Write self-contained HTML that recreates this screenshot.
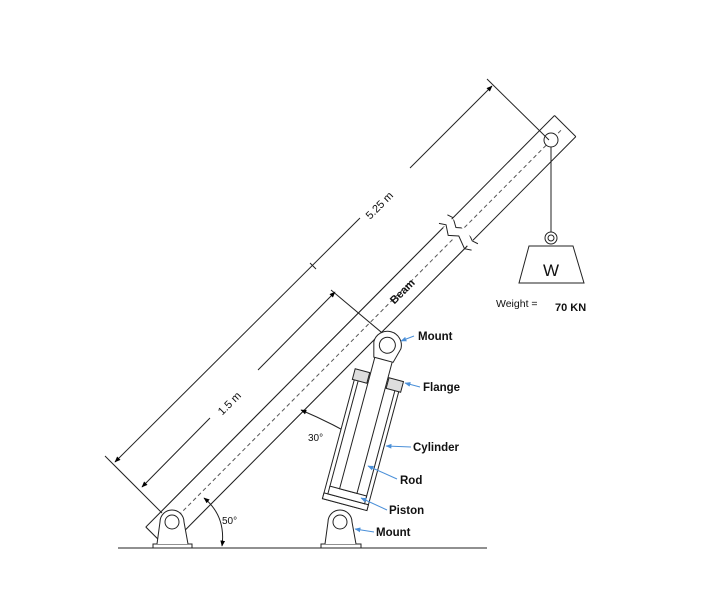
<!DOCTYPE html>
<html><head><meta charset="utf-8"><style>
html,body{margin:0;padding:0;background:#fff}
svg{display:block}
text{font-family:"Liberation Sans",sans-serif}
</style></head><body>
<svg width="726" height="598" viewBox="0 0 726 598" xmlns="http://www.w3.org/2000/svg">
<defs>
<marker id="a" viewBox="0 0 10 10" refX="9" refY="5" markerWidth="6" markerHeight="6" orient="auto-start-reverse"><path d="M0,1 L10,5 L0,9 z" fill="#000"/></marker>
<marker id="b" viewBox="0 0 10 10" refX="9" refY="5" markerWidth="6" markerHeight="6" orient="auto"><path d="M0,1 L10,5 L0,9 z" fill="#4a8fd8"/></marker>
</defs>
<g stroke="#222" stroke-width="1" fill="none">
<!-- ground -->
<line x1="118" y1="548" x2="487" y2="548"/>
<!-- beam -->
<g transform="translate(172,522) rotate(-45.2)">
<path d="M-22,-15 L402,-15 M404,15 L-22,15 M-22,-15 L-22,15" fill="#fff"/>
<rect x="-22" y="-15" width="425" height="30" fill="#fff" stroke="none"/>
<line x1="-22" y1="-15" x2="400" y2="-15"/>
<line x1="-22" y1="15" x2="404" y2="15"/>
<line x1="-22" y1="-15" x2="-22" y2="15"/>
<path d="M400,-21 L404,-15 L398,-6 L405,2 L400,15 L404,21"/>
<path d="M412,-21 L414,-15 L409,-6 L416,2 L411,15 L413,21"/>
<rect x="413" y="-15" width="145" height="30" fill="#fff" stroke="none"/>
<line x1="412" y1="-15" x2="558" y2="-15"/>
<line x1="412" y1="15" x2="558" y2="15"/>
<line x1="558" y1="-15" x2="558" y2="15"/>
<line x1="-12" y1="0" x2="398" y2="0" stroke-dasharray="4,3" stroke="#555"/>
<line x1="415" y1="0" x2="552" y2="0" stroke-dasharray="4,3" stroke="#555"/>
</g>
<circle cx="551" cy="140" r="7" fill="#fff"/>
<!-- rope & weight -->
<line x1="551" y1="147" x2="551" y2="232"/>
<circle cx="551" cy="238" r="6"/><circle cx="551" cy="238" r="3"/>
<path d="M529,246 L573,246 L584,283 L519,283 Z"/>
<!-- dimension 5.25 -->
<line x1="105" y1="456" x2="162" y2="513"/>
<line x1="487" y1="79" x2="549" y2="140"/>
<line x1="115" y1="462" x2="360" y2="218" marker-start="url(#a)"/>
<line x1="410" y1="168" x2="492" y2="86" marker-end="url(#a)"/>
<line x1="310" y1="263" x2="316" y2="269"/>
<!-- dimension 1.5 -->
<line x1="142" y1="487" x2="210" y2="418" marker-start="url(#a)"/>
<line x1="258" y1="370" x2="335" y2="292" marker-end="url(#a)"/>
<line x1="331" y1="290" x2="387" y2="337"/>
<!-- angle arcs -->
<path d="M204,498 Q226,516 222,546" marker-start="url(#a)" marker-end="url(#a)"/>
<path d="M301,410 Q334,424 362,441" marker-start="url(#a)" marker-end="url(#a)"/>
<!-- mounts -->
<rect x="153" y="544" width="39" height="4" fill="#fff"/>
<path d="M157,544 L160,522 A12,12 0 0 1 184,522 L188,544" fill="#fff"/>
<circle cx="172" cy="522" r="7" fill="#fff"/>
<rect x="321" y="544" width="40" height="4" fill="#fff"/>
<path d="M325,544 L328,522 A12,12 0 0 1 352,522 L356,544" fill="#fff"/>
<circle cx="340" cy="522" r="7" fill="#fff"/>
<!-- cylinder -->
<g transform="translate(340,522) rotate(15)">
<rect x="-23" y="-142" width="46" height="124" fill="#fff"/>
<line x1="-19" y1="-142" x2="-19" y2="-30"/>
<line x1="19" y1="-142" x2="19" y2="-30"/>
<rect x="-23" y="-24" width="46" height="6" fill="#fff"/>
<rect x="-19" y="-32" width="38" height="8" fill="#fff"/>
<rect x="-9" y="-170" width="18" height="138" fill="#fff"/>
<rect x="-25" y="-152" width="15" height="11" fill="#ddd"/>
<rect x="10" y="-152" width="15" height="11" fill="#ddd"/>
<path d="M-10,-168 L-14,-183 A14,14 0 0 1 14,-183 L10,-168 Z" fill="#fff"/>
<circle cx="0" cy="-183" r="8" fill="#fff"/>
</g>
</g>
<!-- blue leader arrows -->
<g stroke="#4a8fd8" stroke-width="1" fill="none">
<line x1="414" y1="336" x2="401" y2="341" marker-end="url(#b)"/>
<line x1="420" y1="387" x2="405" y2="383" marker-end="url(#b)"/>
<line x1="411" y1="447" x2="386" y2="446" marker-end="url(#b)"/>
<line x1="397" y1="479" x2="368" y2="466" marker-end="url(#b)"/>
<line x1="387" y1="510" x2="361" y2="498" marker-end="url(#b)"/>
<line x1="374" y1="532" x2="355" y2="529" marker-end="url(#b)"/>
</g>
<!-- labels -->
<g font-size="11" fill="#111">
<text x="382" y="208" transform="rotate(-45 382 208)" text-anchor="middle">5.25 m</text>
<text x="232" y="406" transform="rotate(-45 232 406)" text-anchor="middle">1.5 m</text>
<text x="405" y="294" transform="rotate(-45 405 294)" text-anchor="middle" font-weight="bold">Beam</text>
<text x="222" y="524" font-size="10">50°</text>
<text x="308" y="441" font-size="10">30°</text>
<g font-weight="bold" font-size="11.5">
<text x="418" y="340">Mount</text>
<text x="423" y="391">Flange</text>
<text x="413" y="451">Cylinder</text>
<text x="400" y="484">Rod</text>
<text x="389" y="514">Piston</text>
<text x="376" y="536">Mount</text>
<text x="555" y="311" font-size="11">70 KN</text>
</g>
<text x="496" y="307" font-size="10.5">Weight =</text>
<text x="551" y="276" font-size="17" text-anchor="middle">W</text>
</g>
</svg>
</body></html>
